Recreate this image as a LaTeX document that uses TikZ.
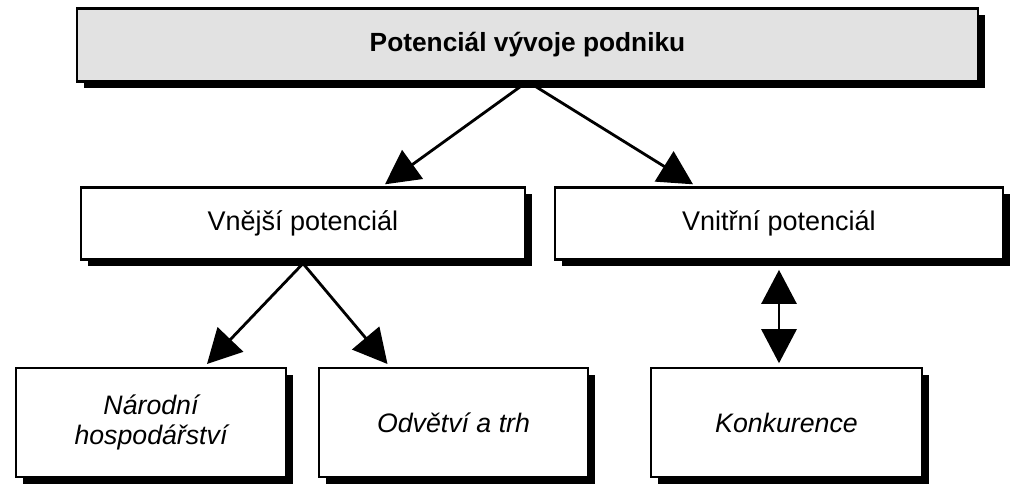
\documentclass[tikz,border=0pt]{standalone}
\usepackage{fontspec}
\setmainfont{Liberation Sans}
\usetikzlibrary{arrows.meta, positioning, shadows}
\definecolor{boxgray}{RGB}{226,226,226}

\begin{document}
\begin{tikzpicture}[
  box/.style={rectangle, draw=black, line width=2pt, fill=white, inner sep=0pt, outer sep=0pt,
              align=center, font=\fontsize{19.2}{21.5}\selectfont,
              drop shadow={shadow xshift=0.17cm, shadow yshift=-0.17cm, fill=black, opacity=1}},
  headbox/.style={box, fill=boxgray, minimum width=22.525cm, minimum height=1.825cm,
                  font=\bfseries\fontsize{18.7}{21}\selectfont},
  midbox/.style={box, minimum height=1.8cm},
  subbox/.style={box, minimum width=6.75cm, minimum height=2.725cm,
                 font=\itshape\fontsize{19}{21.8}\selectfont},
  arrow/.style={-{Triangle[length=0.85cm, width=0.88cm]}, line width=2pt},
  twoway/.style={{Triangle[length=0.85cm, width=0.88cm]}-{Triangle[length=0.85cm, width=0.88cm]}, line width=1.6pt}
]
  \useasboundingbox (0,0) rectangle (25.6,-12.325);
  \node[headbox] (pot) at (13.1875,-1.125) {Potenciál vývoje podniku};
  \node[midbox, minimum width=11.1cm] (vnej) at (7.575,-5.5875) {Vnější potenciál};
  \node[midbox, minimum width=11.2cm, right=0.75cm of vnej] (vnitr) {Vnitřní potenciál};
  \node[subbox] (narod) at (3.775,-10.5625) {Národní\\hospodářství};
  \node[subbox, minimum width=6.725cm, right=0.825cm of narod] (odvet) {Odvětví a trh};
  \node[subbox, minimum width=6.775cm, right=1.575cm of odvet] (konk) {Konkurence};
  \draw[arrow] (pot.south)--([xshift=2.05cm, yshift=0.08cm]vnej.north);
  \draw[arrow] (pot.south)--([xshift=-2.15cm, yshift=0.08cm]vnitr.north);
  \draw[arrow] ([yshift=-0.1cm]vnej.south)--([xshift=1.4cm, yshift=0.1cm]narod.north);
  \draw[arrow] ([yshift=-0.1cm]vnej.south)--([xshift=-1.65cm, yshift=0.1cm]odvet.north);
  \draw[twoway, shorten <=0.26cm, shorten >=0.12cm] (vnitr.south)--(vnitr.south |- konk.north);
\end{tikzpicture}
\end{document}
